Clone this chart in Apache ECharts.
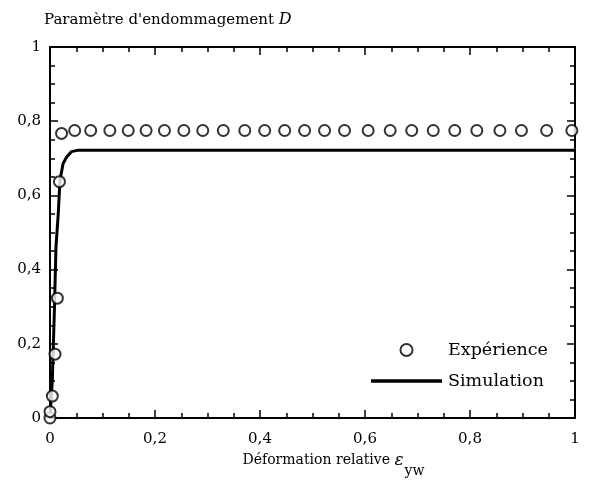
<!DOCTYPE html>
<html><head><meta charset="utf-8">
<script src="https://cdn.jsdelivr.net/npm/echarts@6/dist/echarts.min.js"></script>
<style>html,body{margin:0;padding:0;background:#fff}#c{width:592px;height:480px}</style>
</head><body><div id="c"></div>
<script>
// Experimental data (Expérience)
var expX = [0, 0, 0.0045, 0.0095, 0.014, 0.018, 0.022, 0.047, 0.0775, 0.114, 0.149, 0.183, 0.218, 0.255, 0.291, 0.330, 0.371, 0.409, 0.447, 0.485, 0.523, 0.561, 0.606, 0.648, 0.689, 0.730, 0.771, 0.813, 0.857, 0.898, 0.946, 0.994];
var expY = [0, 0.017, 0.059, 0.172, 0.323, 0.637, 0.767, 0.775, 0.775, 0.775, 0.775, 0.775, 0.775, 0.775, 0.775, 0.775, 0.775, 0.775, 0.775, 0.775, 0.775, 0.775, 0.775, 0.775, 0.775, 0.775, 0.775, 0.775, 0.775, 0.775, 0.775, 0.775];
// Simulation curve
var simX = [0, 0.0044, 0.0082, 0.0114, 0.0158, 0.019, 0.025, 0.032, 0.041, 0.054, 0.1, 0.5, 1.0];
var simY = [0, 0.102, 0.282, 0.462, 0.552, 0.641, 0.686, 0.704, 0.718, 0.722, 0.722, 0.722, 0.722];
var seriesNames = ['Expérience', 'Simulation'];
var titleText = "Paramètre d'endommagement ";
var xName = 'Déformation relative ';

var FONT = 'DejaVu Serif';
function fmt(v){ return String(Math.round(v*100)/100).replace('.', ','); }
function pairs(xs, ys){ return xs.map(function(x,i){ return [x, ys[i]]; }); }

function ax(extra, labelExtra){
  var a = {
    type: 'value', min: 0, max: 1, interval: 0.2,
    axisLine: {show: true, onZero: false, lineStyle: {color: '#000', width: 2}},
    axisTick: {show: true, inside: true, length: 8, lineStyle: {color: '#000', width: 1.5}},
    minorTick: {show: true, splitNumber: 4, length: 5, lineStyle: {color: '#000', width: 1.5}},
    splitLine: {show: false},
    axisLabel: Object.assign({show: true, color: '#000', fontFamily: FONT, fontSize: 15, margin: 9, formatter: fmt}, labelExtra || {})
  };
  return Object.assign(a, extra);
}

var chart = echarts.init(document.getElementById('c'), null, {renderer: 'canvas'});
chart.setOption({
  animation: false,
  backgroundColor: '#fff',
  title: {
    text: titleText + '{i|D}', left: 39, top: 7,
    textStyle: {color: '#000', fontFamily: FONT, fontSize: 15, fontWeight: 'normal',
      rich: {i: {fontStyle: 'italic', fontFamily: FONT, fontSize: 16, color: '#000'}}}
  },
  grid: {left: 50, right: 17, top: 47, bottom: 62, containLabel: false, outerBoundsMode: 'none'},
  xAxis: [
    ax({position: 'bottom', name: xName + '{e|ε}{s|yw}', nameLocation: 'middle', nameGap: 23,
      nameTextStyle: {color: '#000', fontFamily: FONT, fontSize: 14, padding: [0, 0, 0, 42],
        rich: {e: {fontStyle: 'italic', fontFamily: FONT, fontSize: 17, color: '#000'},
               s: {fontFamily: FONT, fontSize: 14, color: '#000', padding: [22, 0, 0, 1]}}}},
      {margin: 14}),
    ax({position: 'top'}, {show: false})
  ],
  yAxis: [
    ax({position: 'left'}),
    ax({position: 'right'}, {show: false})
  ],
  legend: {
    orient: 'vertical', left: 366, top: 336,
    itemWidth: 71, itemHeight: 12, itemGap: 13,
    textStyle: {color: '#000', fontFamily: FONT, fontSize: 17.5, padding: [0, 0, 0, 1]},
    data: [
      {name: seriesNames[0], icon: 'circle', itemStyle: {color: '#fff', borderColor: '#000', borderWidth: 2}},
      {name: seriesNames[1], icon: 'path://M0,0H70V3.5H0Z', itemStyle: {color: '#000', borderWidth: 0}}
    ]
  },
  series: [
    {name: seriesNames[1], type: 'line', data: pairs(simX, simY), symbol: 'none', smooth: false,
      lineStyle: {color: '#000', width: 3}, itemStyle: {color: '#000'}, z: 2},
    {name: seriesNames[0], type: 'scatter', data: pairs(expX, expY), symbol: 'circle', symbolSize: 11,
      itemStyle: {color: '#fff', borderColor: '#000', borderWidth: 2}, z: 3}
  ]
});
</script></body></html>
